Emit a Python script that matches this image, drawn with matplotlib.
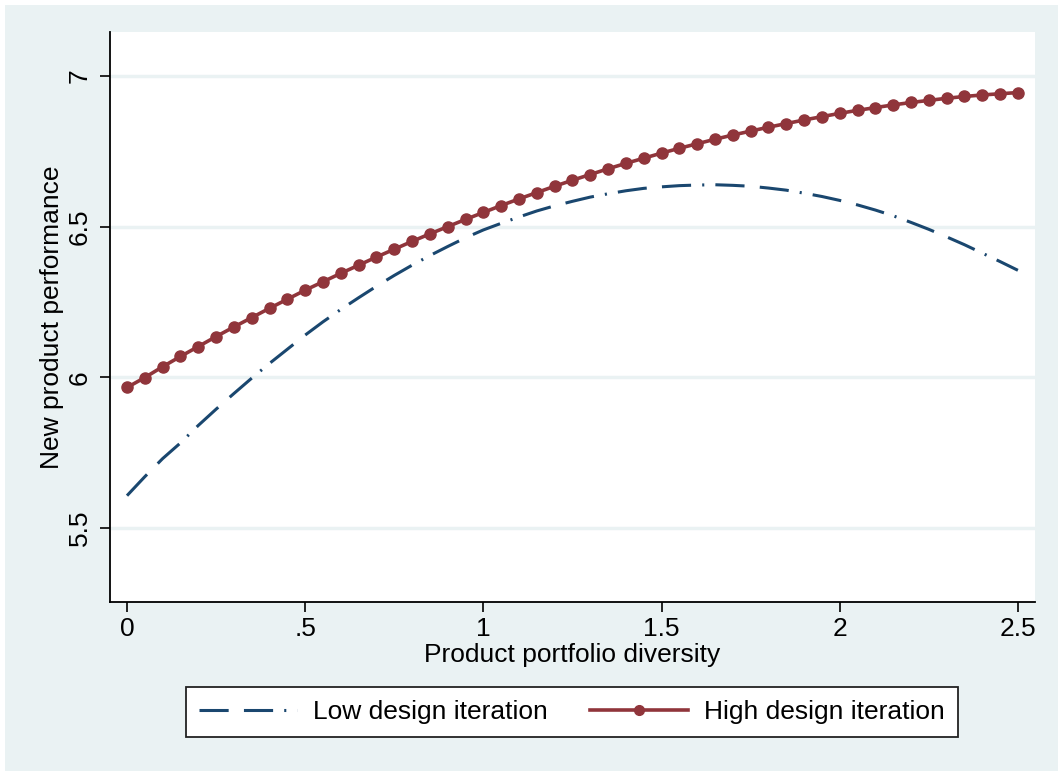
import matplotlib
matplotlib.use('Agg')
import matplotlib.pyplot as plt
from matplotlib.patches import Rectangle

plt.rcParams['font.family'] = ['Liberation Sans', 'DejaVu Sans']
plt.rcParams['lines.scale_dashes'] = False

# predicted values over portfolio diversity
diversity = [0.00, 0.05, 0.10, 0.15, 0.20, 0.25, 0.30, 0.35, 0.40, 0.45,
             0.50, 0.55, 0.60, 0.65, 0.70, 0.75, 0.80, 0.85, 0.90, 0.95,
             1.00, 1.05, 1.10, 1.15, 1.20, 1.25, 1.30, 1.35, 1.40, 1.45,
             1.50, 1.55, 1.60, 1.65, 1.70, 1.75, 1.80, 1.85, 1.90, 1.95,
             2.00, 2.05, 2.10, 2.15, 2.20, 2.25, 2.30, 2.35, 2.40, 2.45,
             2.50]
low_iter = [5.607, 5.670, 5.730, 5.782, 5.840, 5.894, 5.946, 5.997, 6.046, 6.093,
            6.140, 6.184, 6.225, 6.264, 6.302, 6.338, 6.372, 6.404, 6.434, 6.463,
            6.489, 6.511, 6.532, 6.552, 6.569, 6.584, 6.598, 6.609, 6.619, 6.627,
            6.632, 6.636, 6.638, 6.639, 6.637, 6.634, 6.628, 6.621, 6.611, 6.600,
            6.587, 6.572, 6.555, 6.536, 6.514, 6.491, 6.466, 6.440, 6.412, 6.384,
            6.355]
high_iter = [5.966, 5.999, 6.035, 6.069, 6.102, 6.135, 6.167, 6.198, 6.229, 6.259,
             6.289, 6.317, 6.345, 6.372, 6.399, 6.425, 6.451, 6.476, 6.500, 6.524,
             6.547, 6.570, 6.592, 6.613, 6.634, 6.654, 6.673, 6.692, 6.710, 6.727,
             6.744, 6.760, 6.775, 6.790, 6.804, 6.817, 6.830, 6.842, 6.854, 6.865,
             6.876, 6.886, 6.895, 6.904, 6.912, 6.919, 6.926, 6.932, 6.937, 6.941,
             6.945]

xticks = [0, 0.5, 1, 1.5, 2, 2.5]
xticklabels = ['0', '.5', '1', '1.5', '2', '2.5']
yticks = [5.5, 6, 6.5, 7]
yticklabels = ['5.5', '6', '6.5', '7']

navy = '#1A476F'
maroon = '#90353B'
bluish = '#EAF2F3'

fig = plt.figure(figsize=(10.58, 7.71), dpi=100)
fig.patch.set_facecolor('white')
fig.patches.append(Rectangle((5 / 1058, -0.01), 1.01, 1.01 - 5 / 771, transform=fig.transFigure,
                             facecolor=bluish, edgecolor='none', zorder=-10))

ax = fig.add_axes([110 / 1058, 1 - 602 / 771, 925 / 1058, 570 / 771])
ax.set_facecolor('white')

ax.plot(diversity, low_iter, color=navy, lw=2.2,
        dashes=(21, 11, 21, 8, 1.5, 8), label='Low design iteration')
ax.plot(diversity, high_iter, color=maroon, lw=2.6, marker='o', markersize=8,
        label='High design iteration')

ax.set_xlim(-0.0477, 2.548)
ax.set_ylim(5.254, 7.146)
ax.set_xticks(xticks)
ax.set_xticklabels(xticklabels)
ax.set_yticks(yticks)
ax.set_yticklabels(yticklabels, rotation=90, va='center')

for y in yticks:
    ax.axhline(y, color=bluish, lw=2.5, zorder=0)

for s in ['top', 'right']:
    ax.spines[s].set_visible(False)
for s in ['left', 'bottom']:
    ax.spines[s].set_linewidth(1.3)
    ax.spines[s].set_color('black')

ax.tick_params(axis='both', length=7, width=1.2, labelsize=19, colors='black')
ax.tick_params(axis='x', pad=4)
ax.tick_params(axis='y', pad=6)

ax.set_xlabel('Product portfolio diversity', fontsize=19, labelpad=1)
ax.set_ylabel('New product performance', fontsize=19, labelpad=3)

leg = ax.legend(loc='center', bbox_to_anchor=(572 / 1058, 1 - 712 / 771),
                bbox_transform=fig.transFigure, ncol=2, fontsize=19,
                frameon=True, fancybox=False, handlelength=3.7, handletextpad=0.62,
                columnspacing=1.6, borderpad=0.5, borderaxespad=0)
leg.get_frame().set_edgecolor('#222222')
leg.get_frame().set_linewidth(1.3)
leg.get_frame().set_facecolor('white')
leg.get_frame().set_alpha(1)
leg.get_lines()[1].set_markersize(7)

fig.savefig('out.png', dpi=100, facecolor=fig.get_facecolor())
